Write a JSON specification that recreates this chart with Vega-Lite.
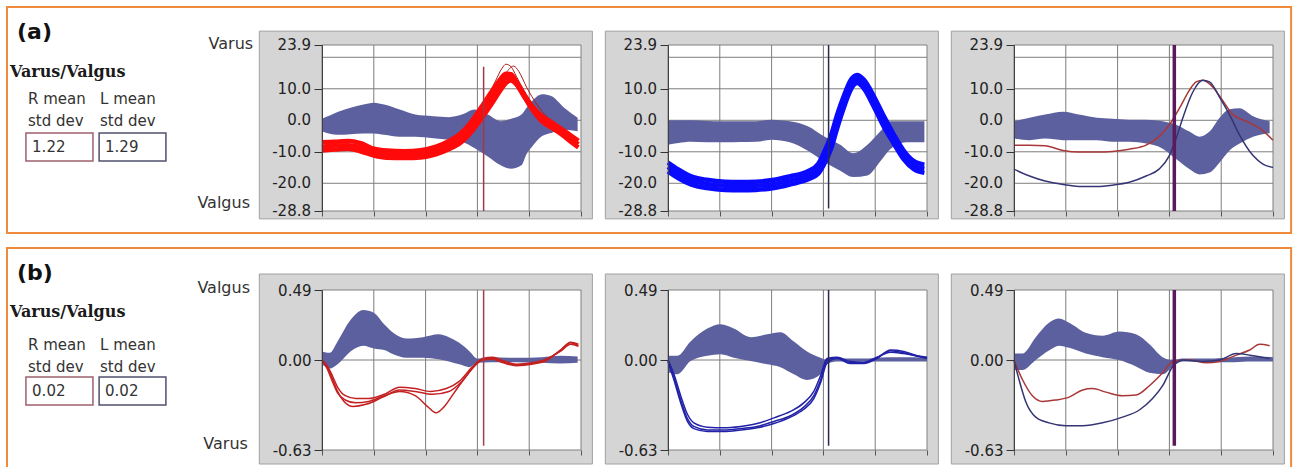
{
  "$schema": "https://vega.github.io/schema/vega-lite/v6.json",
  "background": "white",
  "padding": {"left": 6, "top": 5, "right": 0, "bottom": 0},
  "columns": 4,
  "spacing": {"row": 79, "column": 87},
  "bounds": "flush",
  "align": "each",
  "datasets": {
    "grid_x": [{"at": 20}, {"at": 40}, {"at": 60}, {"at": 80}],
    "grid_ya": [{"at": 20}, {"at": 10}, {"at": 0}, {"at": -10}, {"at": -20}],
    "grid_yb": [{"at": 0}],
    "ticks_a": [
      {"v": 23.9, "label": "23.9"}, {"v": 10, "label": "10.0"}, {"v": 0, "label": "0.0"},
      {"v": -10, "label": "-10.0"}, {"v": -20, "label": "-20.0"}, {"v": -28.8, "label": "-28.8"}
    ],
    "band_a1": [
      {"x": 0, "lo": -3.5, "hi": 0.5}, {"x": 3, "lo": -4.3, "hi": 1.5}, {"x": 6, "lo": -4.6, "hi": 2.6},
      {"x": 11, "lo": -4.4, "hi": 4.0}, {"x": 16, "lo": -4.2, "hi": 5.0}, {"x": 20, "lo": -4.2, "hi": 5.6},
      {"x": 24, "lo": -4.6, "hi": 5.0}, {"x": 30, "lo": -5.2, "hi": 3.4}, {"x": 36, "lo": -5.2, "hi": 1.8},
      {"x": 43, "lo": -5.7, "hi": 1.3}, {"x": 49, "lo": -6.2, "hi": 1.0}, {"x": 54, "lo": -6.8, "hi": 1.8},
      {"x": 59, "lo": -8.9, "hi": 3.4}, {"x": 64, "lo": -11.5, "hi": 1.8}, {"x": 69, "lo": -14.3, "hi": -0.3},
      {"x": 73, "lo": -15.4, "hi": 0.5}, {"x": 77, "lo": -14.3, "hi": 1.8}, {"x": 79, "lo": -10.7, "hi": 4.0},
      {"x": 81, "lo": -8.5, "hi": 6.0}, {"x": 85, "lo": -5.0, "hi": 8.3}, {"x": 88.5, "lo": -4.0, "hi": 7.7},
      {"x": 93.5, "lo": -3.0, "hi": 4.0}, {"x": 98.7, "lo": -3.5, "hi": 0.8}
    ],
    "trace_a1": [
      {"t": "r1", "x": 0, "y": -7.0}, {"t": "r1", "x": 5, "y": -6.8}, {"t": "r1", "x": 10, "y": -6.6}, {"t": "r1", "x": 15, "y": -7.3},
      {"t": "r1", "x": 20, "y": -9.0}, {"t": "r1", "x": 25, "y": -9.6}, {"t": "r1", "x": 32, "y": -9.8}, {"t": "r1", "x": 38, "y": -9.5},
      {"t": "r1", "x": 44, "y": -8.4}, {"t": "r1", "x": 49, "y": -6.6}, {"t": "r1", "x": 54, "y": -3.8}, {"t": "r1", "x": 58, "y": 0.0},
      {"t": "r1", "x": 62, "y": 4.8}, {"t": "r1", "x": 66, "y": 9.8}, {"t": "r1", "x": 69, "y": 13.2}, {"t": "r1", "x": 71, "y": 14.8},
      {"t": "r1", "x": 73, "y": 14.6}, {"t": "r1", "x": 75, "y": 12.4}, {"t": "r1", "x": 78, "y": 8.2}, {"t": "r1", "x": 81, "y": 4.6},
      {"t": "r1", "x": 85, "y": 1.3}, {"t": "r1", "x": 89, "y": -0.8}, {"t": "r1", "x": 93, "y": -3.0}, {"t": "r1", "x": 96, "y": -4.8},
      {"t": "r1", "x": 99, "y": -6.5},
      {"t": "r2", "x": 0, "y": -8.4}, {"t": "r2", "x": 5, "y": -8.0}, {"t": "r2", "x": 10, "y": -7.9}, {"t": "r2", "x": 15, "y": -8.6},
      {"t": "r2", "x": 20, "y": -10.1}, {"t": "r2", "x": 25, "y": -10.8}, {"t": "r2", "x": 32, "y": -11.0}, {"t": "r2", "x": 38, "y": -10.7},
      {"t": "r2", "x": 44, "y": -9.6}, {"t": "r2", "x": 49, "y": -7.9}, {"t": "r2", "x": 54, "y": -5.3}, {"t": "r2", "x": 58, "y": -1.6},
      {"t": "r2", "x": 62, "y": 3.0}, {"t": "r2", "x": 66, "y": 8.0}, {"t": "r2", "x": 69, "y": 11.6}, {"t": "r2", "x": 71, "y": 13.4},
      {"t": "r2", "x": 73, "y": 13.6}, {"t": "r2", "x": 75, "y": 11.8}, {"t": "r2", "x": 78, "y": 7.6}, {"t": "r2", "x": 81, "y": 3.9},
      {"t": "r2", "x": 85, "y": 0.4}, {"t": "r2", "x": 89, "y": -1.7}, {"t": "r2", "x": 93, "y": -3.9}, {"t": "r2", "x": 96, "y": -5.8},
      {"t": "r2", "x": 99, "y": -7.6},
      {"t": "r3", "x": 0, "y": -9.6}, {"t": "r3", "x": 5, "y": -9.3}, {"t": "r3", "x": 10, "y": -9.0}, {"t": "r3", "x": 15, "y": -9.9},
      {"t": "r3", "x": 20, "y": -11.2}, {"t": "r3", "x": 25, "y": -11.9}, {"t": "r3", "x": 32, "y": -12.0}, {"t": "r3", "x": 38, "y": -11.8},
      {"t": "r3", "x": 44, "y": -10.8}, {"t": "r3", "x": 49, "y": -9.2}, {"t": "r3", "x": 54, "y": -6.8}, {"t": "r3", "x": 58, "y": -3.4},
      {"t": "r3", "x": 62, "y": 1.0}, {"t": "r3", "x": 66, "y": 5.8}, {"t": "r3", "x": 69, "y": 9.6}, {"t": "r3", "x": 71, "y": 11.8},
      {"t": "r3", "x": 73, "y": 12.6}, {"t": "r3", "x": 75, "y": 11.4}, {"t": "r3", "x": 78, "y": 7.6}, {"t": "r3", "x": 81, "y": 3.6},
      {"t": "r3", "x": 85, "y": -0.4}, {"t": "r3", "x": 89, "y": -2.6}, {"t": "r3", "x": 93, "y": -4.8}, {"t": "r3", "x": 96, "y": -6.8},
      {"t": "r3", "x": 99, "y": -8.6}
    ],
    "thin_a1": [
      {"t": "t4", "x": 55, "y": -4.0}, {"t": "t4", "x": 60, "y": 1.5}, {"t": "t4", "x": 64, "y": 7.5}, {"t": "t4", "x": 67, "y": 12.5},
      {"t": "t4", "x": 69.5, "y": 16.5}, {"t": "t4", "x": 71, "y": 17.8}, {"t": "t4", "x": 73, "y": 17.0}, {"t": "t4", "x": 75, "y": 14.0},
      {"t": "t4", "x": 78, "y": 9.5}, {"t": "t4", "x": 82, "y": 4.5}, {"t": "t4", "x": 86, "y": 1.0}, {"t": "t4", "x": 90, "y": -1.0},
      {"t": "t5", "x": 60, "y": 0.5}, {"t": "t5", "x": 64, "y": 5.5}, {"t": "t5", "x": 68, "y": 11.0}, {"t": "t5", "x": 71, "y": 15.0},
      {"t": "t5", "x": 74, "y": 17.2}, {"t": "t5", "x": 76, "y": 15.5}, {"t": "t5", "x": 79, "y": 10.5}, {"t": "t5", "x": 83, "y": 5.0},
      {"t": "t5", "x": 87, "y": 1.0}, {"t": "t5", "x": 91, "y": -1.5}
    ],
    "band_a2": [
      {"x": 0, "lo": -7.8, "hi": 0}, {"x": 4, "lo": -7.2, "hi": 0}, {"x": 9, "lo": -6.8, "hi": 0},
      {"x": 15, "lo": -7.0, "hi": -0.2}, {"x": 22, "lo": -7.0, "hi": -0.3}, {"x": 28, "lo": -6.9, "hi": -0.3},
      {"x": 34, "lo": -6.8, "hi": -0.3}, {"x": 40, "lo": -6.2, "hi": 0.2}, {"x": 47, "lo": -7.0, "hi": -0.3},
      {"x": 54, "lo": -9.7, "hi": -1.9}, {"x": 60, "lo": -13.0, "hi": -5.0}, {"x": 66.5, "lo": -16.0, "hi": -7.8},
      {"x": 71.5, "lo": -18.0, "hi": -10.5}, {"x": 77, "lo": -17.5, "hi": -7.8}, {"x": 82, "lo": -13.0, "hi": -3.5},
      {"x": 86, "lo": -9.0, "hi": -0.3}, {"x": 92, "lo": -7.0, "hi": -0.3}, {"x": 99, "lo": -7.0, "hi": -0.3}
    ],
    "trace_a2": [
      {"t": "b1", "x": 0, "y": -13.4}, {"t": "b1", "x": 4, "y": -15.6}, {"t": "b1", "x": 9, "y": -17.8}, {"t": "b1", "x": 15, "y": -18.9},
      {"t": "b1", "x": 22, "y": -19.5}, {"t": "b1", "x": 28, "y": -19.6}, {"t": "b1", "x": 34, "y": -19.5}, {"t": "b1", "x": 41, "y": -18.9},
      {"t": "b1", "x": 47, "y": -17.8}, {"t": "b1", "x": 54, "y": -16.2}, {"t": "b1", "x": 58, "y": -13.8}, {"t": "b1", "x": 60, "y": -10.6},
      {"t": "b1", "x": 63, "y": -4.6}, {"t": "b1", "x": 65.3, "y": 1.8}, {"t": "b1", "x": 68, "y": 8.0}, {"t": "b1", "x": 70.4, "y": 12.6},
      {"t": "b1", "x": 73, "y": 14.4}, {"t": "b1", "x": 75.6, "y": 12.9}, {"t": "b1", "x": 79.4, "y": 7.8}, {"t": "b1", "x": 83.3, "y": 1.4},
      {"t": "b1", "x": 87, "y": -4.2}, {"t": "b1", "x": 91, "y": -9.6}, {"t": "b1", "x": 95, "y": -13.0}, {"t": "b1", "x": 99, "y": -14.1},
      {"t": "b2", "x": 0, "y": -14.8}, {"t": "b2", "x": 4, "y": -17.0}, {"t": "b2", "x": 9, "y": -19.1}, {"t": "b2", "x": 15, "y": -20.2},
      {"t": "b2", "x": 22, "y": -20.8}, {"t": "b2", "x": 28, "y": -20.9}, {"t": "b2", "x": 34, "y": -20.8}, {"t": "b2", "x": 41, "y": -20.2},
      {"t": "b2", "x": 47, "y": -19.1}, {"t": "b2", "x": 54, "y": -17.5}, {"t": "b2", "x": 58, "y": -15.4}, {"t": "b2", "x": 60, "y": -12.5},
      {"t": "b2", "x": 63, "y": -6.8}, {"t": "b2", "x": 65.3, "y": -0.3}, {"t": "b2", "x": 68, "y": 6.1}, {"t": "b2", "x": 70.4, "y": 11.0},
      {"t": "b2", "x": 73, "y": 13.1}, {"t": "b2", "x": 75.6, "y": 11.5}, {"t": "b2", "x": 79.4, "y": 6.1}, {"t": "b2", "x": 83.3, "y": -0.3},
      {"t": "b2", "x": 87, "y": -5.7}, {"t": "b2", "x": 91, "y": -11.0}, {"t": "b2", "x": 95, "y": -14.3}, {"t": "b2", "x": 99, "y": -15.4},
      {"t": "b3", "x": 0, "y": -16.2}, {"t": "b3", "x": 4, "y": -18.4}, {"t": "b3", "x": 9, "y": -20.4}, {"t": "b3", "x": 15, "y": -21.5},
      {"t": "b3", "x": 22, "y": -22.1}, {"t": "b3", "x": 28, "y": -22.2}, {"t": "b3", "x": 34, "y": -22.1}, {"t": "b3", "x": 41, "y": -21.5},
      {"t": "b3", "x": 47, "y": -20.4}, {"t": "b3", "x": 54, "y": -18.8}, {"t": "b3", "x": 58, "y": -17.0}, {"t": "b3", "x": 60, "y": -14.4},
      {"t": "b3", "x": 63, "y": -9.0}, {"t": "b3", "x": 65.3, "y": -2.6}, {"t": "b3", "x": 68, "y": 4.2}, {"t": "b3", "x": 70.4, "y": 9.4},
      {"t": "b3", "x": 73, "y": 11.8}, {"t": "b3", "x": 75.6, "y": 10.1}, {"t": "b3", "x": 79.4, "y": 4.4}, {"t": "b3", "x": 83.3, "y": -2.0},
      {"t": "b3", "x": 87, "y": -7.2}, {"t": "b3", "x": 91, "y": -12.4}, {"t": "b3", "x": 95, "y": -15.6}, {"t": "b3", "x": 99, "y": -16.7}
    ],
    "band_a3": [
      {"x": 0, "lo": -5.8, "hi": -0.3}, {"x": 6, "lo": -6.3, "hi": 0.8}, {"x": 12, "lo": -5.8, "hi": 1.8},
      {"x": 19, "lo": -6.3, "hi": 2.7}, {"x": 25, "lo": -6.3, "hi": 1.8}, {"x": 32, "lo": -6.3, "hi": 0.8},
      {"x": 38, "lo": -6.8, "hi": 0.5}, {"x": 44.5, "lo": -6.8, "hi": 0.2}, {"x": 51, "lo": -7.4, "hi": 0.2},
      {"x": 57.4, "lo": -9.0, "hi": -0.3}, {"x": 62.6, "lo": -12.3, "hi": -1.4}, {"x": 67.7, "lo": -15.5, "hi": -3.6},
      {"x": 71.6, "lo": -17.2, "hi": -5.2}, {"x": 75.5, "lo": -16.6, "hi": -3.6}, {"x": 79.4, "lo": -13.4, "hi": 0.8},
      {"x": 83.2, "lo": -9.6, "hi": 3.5}, {"x": 87.1, "lo": -7.4, "hi": 3.8}, {"x": 92.3, "lo": -5.2, "hi": 1.3},
      {"x": 98.7, "lo": -4.1, "hi": -0.3}
    ],
    "trace_a3": [
      {"t": "R", "x": 0, "y": -7.9}, {"t": "R", "x": 6, "y": -7.9}, {"t": "R", "x": 12, "y": -8.1}, {"t": "R", "x": 19, "y": -9.6},
      {"t": "R", "x": 25, "y": -10.1}, {"t": "R", "x": 32, "y": -10.1}, {"t": "R", "x": 38, "y": -9.9}, {"t": "R", "x": 44.5, "y": -9.2},
      {"t": "R", "x": 51, "y": -7.9}, {"t": "R", "x": 56, "y": -5.2}, {"t": "R", "x": 60, "y": -1.4}, {"t": "R", "x": 64, "y": 4.0},
      {"t": "R", "x": 67.7, "y": 9.5}, {"t": "R", "x": 70.3, "y": 12.2}, {"t": "R", "x": 72.9, "y": 12.7}, {"t": "R", "x": 76.8, "y": 10.5},
      {"t": "R", "x": 80.6, "y": 6.2}, {"t": "R", "x": 84.5, "y": 1.8}, {"t": "R", "x": 89.7, "y": -0.3}, {"t": "R", "x": 94.8, "y": -2.5},
      {"t": "R", "x": 100, "y": -6.3},
      {"t": "L", "x": 0, "y": -15.5}, {"t": "L", "x": 6, "y": -17.7}, {"t": "L", "x": 12, "y": -19.3}, {"t": "L", "x": 19, "y": -20.4},
      {"t": "L", "x": 25, "y": -21.0}, {"t": "L", "x": 32, "y": -21.0}, {"t": "L", "x": 38, "y": -20.6}, {"t": "L", "x": 44.5, "y": -19.7},
      {"t": "L", "x": 51, "y": -17.7}, {"t": "L", "x": 56, "y": -15.5}, {"t": "L", "x": 60, "y": -11.2}, {"t": "L", "x": 62.6, "y": -5.8},
      {"t": "L", "x": 65.2, "y": 0.8}, {"t": "L", "x": 69, "y": 8.9}, {"t": "L", "x": 72.9, "y": 12.7}, {"t": "L", "x": 75.5, "y": 12.2},
      {"t": "L", "x": 79.4, "y": 7.3}, {"t": "L", "x": 83.2, "y": 1.8}, {"t": "L", "x": 87.1, "y": -4.7}, {"t": "L", "x": 92.3, "y": -11.2},
      {"t": "L", "x": 96.1, "y": -13.9}, {"t": "L", "x": 100, "y": -15.0}
    ],
    "band_b1": [
      {"x": 0, "lo": -0.03, "hi": 0.06}, {"x": 3, "lo": -0.06, "hi": 0.05}, {"x": 6, "lo": -0.03, "hi": 0.13},
      {"x": 11, "lo": 0.06, "hi": 0.28}, {"x": 16, "lo": 0.1, "hi": 0.35}, {"x": 20, "lo": 0.08, "hi": 0.33},
      {"x": 24, "lo": 0.07, "hi": 0.25}, {"x": 27.5, "lo": 0.04, "hi": 0.19}, {"x": 32.5, "lo": 0.016, "hi": 0.15},
      {"x": 39, "lo": 0.016, "hi": 0.16}, {"x": 45, "lo": 0.005, "hi": 0.18}, {"x": 49, "lo": -0.01, "hi": 0.16},
      {"x": 53, "lo": -0.03, "hi": 0.12}, {"x": 57, "lo": -0.05, "hi": 0.06}, {"x": 60, "lo": -0.02, "hi": 0.01},
      {"x": 65, "lo": -0.015, "hi": 0.02}, {"x": 75, "lo": -0.015, "hi": 0.015}, {"x": 85, "lo": -0.02, "hi": 0.02},
      {"x": 92, "lo": -0.025, "hi": 0.03}, {"x": 98.7, "lo": -0.02, "hi": 0.025}
    ],
    "trace_b1": [
      {"t": "r1", "x": 0, "y": 0.0}, {"t": "r1", "x": 2, "y": -0.05}, {"t": "r1", "x": 4, "y": -0.13}, {"t": "r1", "x": 6, "y": -0.22},
      {"t": "r1", "x": 8.5, "y": -0.29}, {"t": "r1", "x": 12, "y": -0.325}, {"t": "r1", "x": 17, "y": -0.31}, {"t": "r1", "x": 23.5, "y": -0.26},
      {"t": "r1", "x": 30, "y": -0.21}, {"t": "r1", "x": 36, "y": -0.22}, {"t": "r1", "x": 42.7, "y": -0.24}, {"t": "r1", "x": 49, "y": -0.22},
      {"t": "r1", "x": 54, "y": -0.15}, {"t": "r1", "x": 59, "y": -0.04}, {"t": "r1", "x": 62, "y": 0.0}, {"t": "r1", "x": 66, "y": 0.005},
      {"t": "r1", "x": 70, "y": -0.02}, {"t": "r1", "x": 75, "y": -0.04}, {"t": "r1", "x": 81, "y": -0.03}, {"t": "r1", "x": 87, "y": 0.0},
      {"t": "r1", "x": 92, "y": 0.07}, {"t": "r1", "x": 96, "y": 0.12}, {"t": "r1", "x": 99, "y": 0.1},
      {"t": "r2", "x": 0, "y": 0.0}, {"t": "r2", "x": 2, "y": -0.04}, {"t": "r2", "x": 4, "y": -0.11}, {"t": "r2", "x": 6, "y": -0.19},
      {"t": "r2", "x": 9, "y": -0.25}, {"t": "r2", "x": 13, "y": -0.27}, {"t": "r2", "x": 18, "y": -0.27}, {"t": "r2", "x": 24, "y": -0.24},
      {"t": "r2", "x": 30, "y": -0.19}, {"t": "r2", "x": 36, "y": -0.2}, {"t": "r2", "x": 42, "y": -0.22}, {"t": "r2", "x": 48, "y": -0.2},
      {"t": "r2", "x": 53, "y": -0.15}, {"t": "r2", "x": 58, "y": -0.05}, {"t": "r2", "x": 62, "y": 0.01}, {"t": "r2", "x": 66, "y": 0.02},
      {"t": "r2", "x": 70, "y": -0.005}, {"t": "r2", "x": 75, "y": -0.03}, {"t": "r2", "x": 81, "y": -0.02}, {"t": "r2", "x": 87, "y": 0.01},
      {"t": "r2", "x": 92, "y": 0.06}, {"t": "r2", "x": 96, "y": 0.11}, {"t": "r2", "x": 99, "y": 0.095},
      {"t": "r3", "x": 0, "y": 0.0}, {"t": "r3", "x": 2, "y": -0.06}, {"t": "r3", "x": 4, "y": -0.15}, {"t": "r3", "x": 6, "y": -0.23},
      {"t": "r3", "x": 9, "y": -0.28}, {"t": "r3", "x": 13, "y": -0.3}, {"t": "r3", "x": 18, "y": -0.29}, {"t": "r3", "x": 24, "y": -0.25},
      {"t": "r3", "x": 30, "y": -0.22}, {"t": "r3", "x": 36, "y": -0.25}, {"t": "r3", "x": 41, "y": -0.33}, {"t": "r3", "x": 44, "y": -0.37},
      {"t": "r3", "x": 47, "y": -0.33}, {"t": "r3", "x": 51, "y": -0.23}, {"t": "r3", "x": 55, "y": -0.13}, {"t": "r3", "x": 59, "y": -0.04},
      {"t": "r3", "x": 62, "y": 0.005}, {"t": "r3", "x": 66, "y": 0.01}, {"t": "r3", "x": 70, "y": -0.015}, {"t": "r3", "x": 75, "y": -0.035},
      {"t": "r3", "x": 81, "y": -0.025}, {"t": "r3", "x": 87, "y": 0.005}, {"t": "r3", "x": 92, "y": 0.065}, {"t": "r3", "x": 96, "y": 0.125},
      {"t": "r3", "x": 99, "y": 0.11}
    ],
    "band_b2": [
      {"x": 0, "lo": -0.085, "hi": 0.03}, {"x": 3.6, "lo": -0.1, "hi": 0.03}, {"x": 8.7, "lo": -0.007, "hi": 0.13},
      {"x": 15.2, "lo": 0.03, "hi": 0.22}, {"x": 20.3, "lo": 0.04, "hi": 0.25}, {"x": 25.4, "lo": 0.016, "hi": 0.22},
      {"x": 31.9, "lo": -0.007, "hi": 0.16}, {"x": 38.3, "lo": -0.03, "hi": 0.18}, {"x": 43.4, "lo": -0.05, "hi": 0.195},
      {"x": 48.6, "lo": -0.1, "hi": 0.13}, {"x": 53.7, "lo": -0.14, "hi": 0.06}, {"x": 58.9, "lo": -0.1, "hi": 0.015},
      {"x": 61.4, "lo": -0.03, "hi": 0.0}, {"x": 65, "lo": -0.01, "hi": 0.01}, {"x": 75, "lo": -0.01, "hi": 0.01},
      {"x": 85, "lo": -0.01, "hi": 0.02}, {"x": 95, "lo": -0.01, "hi": 0.02}, {"x": 100, "lo": -0.01, "hi": 0.015}
    ],
    "trace_b2": [
      {"t": "b1", "x": 0, "y": 0.0}, {"t": "b1", "x": 2.3, "y": -0.12}, {"t": "b1", "x": 4.9, "y": -0.28}, {"t": "b1", "x": 7.5, "y": -0.41},
      {"t": "b1", "x": 10, "y": -0.465}, {"t": "b1", "x": 15.2, "y": -0.49}, {"t": "b1", "x": 21.6, "y": -0.49}, {"t": "b1", "x": 28, "y": -0.48},
      {"t": "b1", "x": 34.4, "y": -0.465}, {"t": "b1", "x": 40.9, "y": -0.43}, {"t": "b1", "x": 47.3, "y": -0.39}, {"t": "b1", "x": 52.4, "y": -0.33},
      {"t": "b1", "x": 56.3, "y": -0.25}, {"t": "b1", "x": 58.9, "y": -0.14}, {"t": "b1", "x": 61.4, "y": 0.0}, {"t": "b1", "x": 65.3, "y": 0.016},
      {"t": "b1", "x": 70.4, "y": -0.02}, {"t": "b1", "x": 75.6, "y": -0.02}, {"t": "b1", "x": 80.7, "y": 0.016}, {"t": "b1", "x": 85.9, "y": 0.065},
      {"t": "b1", "x": 91, "y": 0.05}, {"t": "b1", "x": 96.1, "y": 0.027}, {"t": "b1", "x": 100, "y": 0.015},
      {"t": "b2", "x": 0, "y": 0.0}, {"t": "b2", "x": 2.3, "y": -0.1}, {"t": "b2", "x": 4.9, "y": -0.25}, {"t": "b2", "x": 7.5, "y": -0.38},
      {"t": "b2", "x": 10, "y": -0.44}, {"t": "b2", "x": 15.2, "y": -0.47}, {"t": "b2", "x": 21.6, "y": -0.475}, {"t": "b2", "x": 28, "y": -0.465},
      {"t": "b2", "x": 34.4, "y": -0.445}, {"t": "b2", "x": 40.9, "y": -0.405}, {"t": "b2", "x": 47.3, "y": -0.36}, {"t": "b2", "x": 52.4, "y": -0.3},
      {"t": "b2", "x": 56.3, "y": -0.22}, {"t": "b2", "x": 58.9, "y": -0.11}, {"t": "b2", "x": 61.4, "y": 0.01}, {"t": "b2", "x": 65.3, "y": 0.02},
      {"t": "b2", "x": 70.4, "y": -0.01}, {"t": "b2", "x": 75.6, "y": -0.015}, {"t": "b2", "x": 80.7, "y": 0.02}, {"t": "b2", "x": 85.9, "y": 0.055},
      {"t": "b2", "x": 91, "y": 0.045}, {"t": "b2", "x": 96.1, "y": 0.03}, {"t": "b2", "x": 100, "y": 0.02},
      {"t": "b3", "x": 0, "y": -0.01}, {"t": "b3", "x": 2.3, "y": -0.14}, {"t": "b3", "x": 4.9, "y": -0.3}, {"t": "b3", "x": 7.5, "y": -0.43},
      {"t": "b3", "x": 10, "y": -0.48}, {"t": "b3", "x": 15.2, "y": -0.5}, {"t": "b3", "x": 21.6, "y": -0.5}, {"t": "b3", "x": 28, "y": -0.49},
      {"t": "b3", "x": 34.4, "y": -0.475}, {"t": "b3", "x": 40.9, "y": -0.445}, {"t": "b3", "x": 47.3, "y": -0.4}, {"t": "b3", "x": 52.4, "y": -0.345},
      {"t": "b3", "x": 56.3, "y": -0.27}, {"t": "b3", "x": 58.9, "y": -0.16}, {"t": "b3", "x": 61.4, "y": -0.02}, {"t": "b3", "x": 65.3, "y": 0.01},
      {"t": "b3", "x": 70.4, "y": -0.025}, {"t": "b3", "x": 75.6, "y": -0.025}, {"t": "b3", "x": 80.7, "y": 0.01}, {"t": "b3", "x": 85.9, "y": 0.07},
      {"t": "b3", "x": 91, "y": 0.06}, {"t": "b3", "x": 96.1, "y": 0.03}, {"t": "b3", "x": 100, "y": 0.01}
    ],
    "band_b3": [
      {"x": 0, "lo": -0.07, "hi": 0.045}, {"x": 3.2, "lo": -0.07, "hi": 0.045}, {"x": 8.4, "lo": 0.0, "hi": 0.16},
      {"x": 13.5, "lo": 0.067, "hi": 0.26}, {"x": 17.4, "lo": 0.1, "hi": 0.29}, {"x": 21.3, "lo": 0.085, "hi": 0.26},
      {"x": 27.7, "lo": 0.045, "hi": 0.19}, {"x": 34.2, "lo": 0.02, "hi": 0.17}, {"x": 40.6, "lo": 0.0, "hi": 0.2},
      {"x": 47.1, "lo": -0.045, "hi": 0.18}, {"x": 52.3, "lo": -0.09, "hi": 0.11}, {"x": 57.4, "lo": -0.1, "hi": 0.02},
      {"x": 61.3, "lo": -0.045, "hi": 0.0}, {"x": 65, "lo": -0.01, "hi": 0.01}, {"x": 75, "lo": -0.015, "hi": 0.01},
      {"x": 85, "lo": -0.015, "hi": 0.02}, {"x": 92, "lo": -0.01, "hi": 0.025}, {"x": 100, "lo": -0.01, "hi": 0.02}
    ],
    "trace_b3": [
      {"t": "R", "x": 0, "y": 0.0}, {"t": "R", "x": 3.2, "y": -0.135}, {"t": "R", "x": 7.1, "y": -0.25}, {"t": "R", "x": 11, "y": -0.29},
      {"t": "R", "x": 16.1, "y": -0.28}, {"t": "R", "x": 21.3, "y": -0.26}, {"t": "R", "x": 26.5, "y": -0.21}, {"t": "R", "x": 30.3, "y": -0.2},
      {"t": "R", "x": 35.5, "y": -0.225}, {"t": "R", "x": 41.9, "y": -0.25}, {"t": "R", "x": 47.1, "y": -0.245}, {"t": "R", "x": 52.3, "y": -0.18},
      {"t": "R", "x": 57.4, "y": -0.09}, {"t": "R", "x": 61.3, "y": -0.01}, {"t": "R", "x": 67.7, "y": 0.0}, {"t": "R", "x": 74.2, "y": -0.02},
      {"t": "R", "x": 79.4, "y": -0.01}, {"t": "R", "x": 85.8, "y": 0.034}, {"t": "R", "x": 91, "y": 0.07}, {"t": "R", "x": 94.8, "y": 0.11},
      {"t": "R", "x": 98.7, "y": 0.1},
      {"t": "L", "x": 0, "y": 0.0}, {"t": "L", "x": 1.9, "y": -0.135}, {"t": "L", "x": 4.5, "y": -0.29}, {"t": "L", "x": 8.4, "y": -0.4},
      {"t": "L", "x": 13.5, "y": -0.44}, {"t": "L", "x": 20, "y": -0.46}, {"t": "L", "x": 26.5, "y": -0.46}, {"t": "L", "x": 34.2, "y": -0.44},
      {"t": "L", "x": 41.9, "y": -0.4}, {"t": "L", "x": 48.4, "y": -0.35}, {"t": "L", "x": 53.5, "y": -0.27}, {"t": "L", "x": 57.4, "y": -0.18},
      {"t": "L", "x": 61.3, "y": -0.045}, {"t": "L", "x": 65.2, "y": 0.0}, {"t": "L", "x": 72.9, "y": -0.01}, {"t": "L", "x": 79.4, "y": 0.0},
      {"t": "L", "x": 85.8, "y": 0.045}, {"t": "L", "x": 91, "y": 0.034}, {"t": "L", "x": 98.7, "y": 0.01}
    ]
  },
  "concat": [
    {
      "width": 228, "height": 166,
      "data": {"values": [{}]},
      "layer": [
        {"mark": {"type": "rect", "filled": false, "stroke": "#ef8a3c", "strokeWidth": 2},
         "encoding": {
           "x": {"datum": 0, "type": "quantitative", "scale": {"domain": [0, 100], "nice": false, "zero": false}, "axis": null},
           "x2": {"datum": 563.2},
           "y": {"datum": -22.9, "type": "quantitative", "scale": {"domain": [0, 100], "nice": false, "zero": false, "reverse": true}, "axis": null},
           "y2": {"datum": 113.3}}},
        {"mark": {"type": "text", "text": "(a)", "font": "DejaVu Sans", "fontWeight": "bold", "fontSize": 22, "align": "left", "baseline": "middle", "color": "#111111"},
         "encoding": {"x": {"datum": 4.4, "type": "quantitative", "scale": {"domain": [0, 100], "nice": false, "zero": false}, "axis": null},
                      "y": {"datum": -7.8, "type": "quantitative", "scale": {"domain": [0, 100], "nice": false, "zero": false, "reverse": true}, "axis": null}}},
        {"mark": {"type": "text", "text": "Varus/Valgus", "font": "DejaVu Serif", "fontWeight": "bold", "fontSize": 16, "align": "left", "baseline": "middle", "color": "#1a1a1a"},
         "encoding": {"x": {"datum": 1.3, "type": "quantitative", "scale": {"domain": [0, 100], "nice": false, "zero": false}, "axis": null},
                      "y": {"datum": 16.3, "type": "quantitative", "scale": {"domain": [0, 100], "nice": false, "zero": false, "reverse": true}, "axis": null}}},
        {"mark": {"type": "text", "text": ["R mean", "std dev"], "lineHeight": 21.5, "fontSize": 15, "align": "left", "baseline": "middle", "color": "#333333"},
         "encoding": {"x": {"datum": 9.2, "type": "quantitative", "scale": {"domain": [0, 100], "nice": false, "zero": false}, "axis": null},
                      "y": {"datum": 32.8, "type": "quantitative", "scale": {"domain": [0, 100], "nice": false, "zero": false, "reverse": true}, "axis": null}}},
        {"mark": {"type": "text", "text": ["L mean", "std dev"], "lineHeight": 21.5, "fontSize": 15, "align": "left", "baseline": "middle", "color": "#333333"},
         "encoding": {"x": {"datum": 40.8, "type": "quantitative", "scale": {"domain": [0, 100], "nice": false, "zero": false}, "axis": null},
                      "y": {"datum": 32.8, "type": "quantitative", "scale": {"domain": [0, 100], "nice": false, "zero": false, "reverse": true}, "axis": null}}},
        {"mark": {"type": "rect", "filled": false, "stroke": "#a0606e", "strokeWidth": 1.5},
         "encoding": {"x": {"datum": 8.3, "type": "quantitative", "scale": {"domain": [0, 100], "nice": false, "zero": false}, "axis": null},
                      "x2": {"datum": 37.7},
                      "y": {"datum": 53.0, "type": "quantitative", "scale": {"domain": [0, 100], "nice": false, "zero": false, "reverse": true}, "axis": null},
                      "y2": {"datum": 69.9}}},
        {"mark": {"type": "rect", "filled": false, "stroke": "#50506e", "strokeWidth": 1.5},
         "encoding": {"x": {"datum": 40.4, "type": "quantitative", "scale": {"domain": [0, 100], "nice": false, "zero": false}, "axis": null},
                      "x2": {"datum": 69.7},
                      "y": {"datum": 53.0, "type": "quantitative", "scale": {"domain": [0, 100], "nice": false, "zero": false, "reverse": true}, "axis": null},
                      "y2": {"datum": 69.9}}},
        {"mark": {"type": "text", "text": "1.22", "fontSize": 15, "align": "left", "baseline": "middle", "color": "#333333"},
         "encoding": {"x": {"datum": 11.0, "type": "quantitative", "scale": {"domain": [0, 100], "nice": false, "zero": false}, "axis": null},
                      "y": {"datum": 61.4, "type": "quantitative", "scale": {"domain": [0, 100], "nice": false, "zero": false, "reverse": true}, "axis": null}}},
        {"mark": {"type": "text", "text": "1.29", "fontSize": 15, "align": "left", "baseline": "middle", "color": "#333333"},
         "encoding": {"x": {"datum": 43.0, "type": "quantitative", "scale": {"domain": [0, 100], "nice": false, "zero": false}, "axis": null},
                      "y": {"datum": 61.4, "type": "quantitative", "scale": {"domain": [0, 100], "nice": false, "zero": false, "reverse": true}, "axis": null}}}
      ]
    },
    {
      "width": 259, "height": 166,
      "data": {"values": [{}]},
      "layer": [
        {"mark": {"type": "rect", "fill": "#d5d5d5", "stroke": "#a0a0a0", "strokeWidth": 1},
         "encoding": {
           "x": {"datum": -24.2, "type": "quantitative", "scale": {"domain": [0, 100], "nice": false, "zero": false}},
           "x2": {"datum": 104.4},
           "y": {"datum": 28.3, "type": "quantitative", "scale": {"domain": [-28.8, 23.9], "nice": false, "zero": false}},
           "y2": {"datum": -31.3}}},
        {"mark": {"type": "rect", "fill": "#ffffff", "stroke": "#808080", "strokeWidth": 1},
         "encoding": {"x": {"datum": 0, "type": "quantitative", "scale": {"domain": [0, 100], "nice": false, "zero": false}},
                      "x2": {"datum": 100},
                      "y": {"datum": 23.9, "type": "quantitative", "scale": {"domain": [-28.8, 23.9], "nice": false, "zero": false}},
                      "y2": {"datum": -28.8}}},
        {"data": {"name": "grid_x"}, "mark": {"type": "rule", "color": "#7d7d7d", "strokeWidth": 1},
         "encoding": {"x": {"field": "at", "type": "quantitative", "scale": {"domain": [0, 100], "nice": false, "zero": false},
                            "axis": {"values": [0, 20, 40, 60, 80, 100], "labels": false, "domain": false, "tickSize": 5, "tickColor": "#555555", "grid": false, "title": null, "zindex": 1}}}},
        {"data": {"name": "grid_ya"}, "mark": {"type": "rule", "color": "#7d7d7d", "strokeWidth": 1},
         "encoding": {"y": {"field": "at", "type": "quantitative", "scale": {"domain": [-28.8, 23.9], "nice": false, "zero": false},
                            "axis": {"values": [23.9, 20, 10, 0, -10, -20, -28.8], "labels": false, "tickSize": 8, "grid": false, "title": null, "zindex": 1}}}},
        {"data": {"name": "band_a1"}, "mark": {"type": "area", "color": "#5d609f", "interpolate": "monotone"},
         "encoding": {"x": {"field": "x", "type": "quantitative", "scale": {"domain": [0, 100], "nice": false, "zero": false}},
                      "y": {"field": "hi", "type": "quantitative", "scale": {"domain": [-28.8, 23.9], "nice": false, "zero": false}},
                      "y2": {"field": "lo"}}},
        {"data": {"name": "thin_a1"}, "mark": {"type": "line", "color": "#b31b1b", "strokeWidth": 1, "interpolate": "monotone"},
         "encoding": {"x": {"field": "x", "type": "quantitative", "scale": {"domain": [0, 100], "nice": false, "zero": false}},
                      "y": {"field": "y", "type": "quantitative", "scale": {"domain": [-28.8, 23.9], "nice": false, "zero": false}},
                      "detail": {"field": "t"}}},
        {"data": {"name": "trace_a1"}, "mark": {"type": "line", "color": "#ff0a0a", "strokeWidth": 4.5, "interpolate": "monotone"},
         "encoding": {"x": {"field": "x", "type": "quantitative", "scale": {"domain": [0, 100], "nice": false, "zero": false}},
                      "y": {"field": "y", "type": "quantitative", "scale": {"domain": [-28.8, 23.9], "nice": false, "zero": false}},
                      "detail": {"field": "t"}}},
        {"mark": {"type": "rule", "color": "#9b3a4a", "strokeWidth": 1.5},
         "encoding": {"x": {"datum": 62.4, "type": "quantitative", "scale": {"domain": [0, 100], "nice": false, "zero": false}},
                      "y": {"datum": 17, "type": "quantitative", "scale": {"domain": [-28.8, 23.9], "nice": false, "zero": false}},
                      "y2": {"datum": -28.8}}},
        {"data": {"name": "ticks_a"}, "mark": {"type": "text", "fontSize": 15, "align": "right", "baseline": "middle", "color": "#222222"},
         "encoding": {"x": {"datum": -4.25, "type": "quantitative", "scale": {"domain": [0, 100], "nice": false, "zero": false}},
                      "y": {"field": "v", "type": "quantitative", "scale": {"domain": [-28.8, 23.9], "nice": false, "zero": false}},
                      "text": {"field": "label"}}},
        {"mark": {"type": "text", "text": "Varus", "fontSize": 16, "align": "right", "baseline": "middle", "color": "#333333"},
         "encoding": {"x": {"datum": -26.6, "type": "quantitative", "scale": {"domain": [0, 100], "nice": false, "zero": false}},
                      "y": {"datum": 24.2, "type": "quantitative", "scale": {"domain": [-28.8, 23.9], "nice": false, "zero": false}}}},
        {"mark": {"type": "text", "text": "Valgus", "fontSize": 16, "align": "right", "baseline": "middle", "color": "#333333"},
         "encoding": {"x": {"datum": -27.8, "type": "quantitative", "scale": {"domain": [0, 100], "nice": false, "zero": false}},
                      "y": {"datum": -26.3, "type": "quantitative", "scale": {"domain": [-28.8, 23.9], "nice": false, "zero": false}}}}
      ]
    },
    {
      "width": 259, "height": 166,
      "data": {"values": [{}]},
      "layer": [
        {"mark": {"type": "rect", "fill": "#d5d5d5", "stroke": "#a0a0a0", "strokeWidth": 1},
         "encoding": {
           "x": {"datum": -24.2, "type": "quantitative", "scale": {"domain": [0, 100], "nice": false, "zero": false}},
           "x2": {"datum": 104.4},
           "y": {"datum": 28.3, "type": "quantitative", "scale": {"domain": [-28.8, 23.9], "nice": false, "zero": false}},
           "y2": {"datum": -31.3}}},
        {"mark": {"type": "rect", "fill": "#ffffff", "stroke": "#808080", "strokeWidth": 1},
         "encoding": {"x": {"datum": 0, "type": "quantitative", "scale": {"domain": [0, 100], "nice": false, "zero": false}},
                      "x2": {"datum": 100},
                      "y": {"datum": 23.9, "type": "quantitative", "scale": {"domain": [-28.8, 23.9], "nice": false, "zero": false}},
                      "y2": {"datum": -28.8}}},
        {"data": {"name": "grid_x"}, "mark": {"type": "rule", "color": "#7d7d7d", "strokeWidth": 1},
         "encoding": {"x": {"field": "at", "type": "quantitative", "scale": {"domain": [0, 100], "nice": false, "zero": false},
                            "axis": {"values": [0, 20, 40, 60, 80, 100], "labels": false, "domain": false, "tickSize": 5, "tickColor": "#555555", "grid": false, "title": null, "zindex": 1}}}},
        {"data": {"name": "grid_ya"}, "mark": {"type": "rule", "color": "#7d7d7d", "strokeWidth": 1},
         "encoding": {"y": {"field": "at", "type": "quantitative", "scale": {"domain": [-28.8, 23.9], "nice": false, "zero": false},
                            "axis": {"values": [23.9, 20, 10, 0, -10, -20, -28.8], "labels": false, "tickSize": 8, "grid": false, "title": null, "zindex": 1}}}},
        {"data": {"name": "band_a2"}, "mark": {"type": "area", "color": "#5d609f", "interpolate": "monotone"},
         "encoding": {"x": {"field": "x", "type": "quantitative", "scale": {"domain": [0, 100], "nice": false, "zero": false}},
                      "y": {"field": "hi", "type": "quantitative", "scale": {"domain": [-28.8, 23.9], "nice": false, "zero": false}},
                      "y2": {"field": "lo"}}},
        {"data": {"name": "trace_a2"}, "mark": {"type": "line", "color": "#0a0aff", "strokeWidth": 4.5, "interpolate": "monotone"},
         "encoding": {"x": {"field": "x", "type": "quantitative", "scale": {"domain": [0, 100], "nice": false, "zero": false}},
                      "y": {"field": "y", "type": "quantitative", "scale": {"domain": [-28.8, 23.9], "nice": false, "zero": false}},
                      "detail": {"field": "t"}}},
        {"mark": {"type": "rule", "color": "#2a2a4a", "strokeWidth": 1.5},
         "encoding": {"x": {"datum": 62.0, "type": "quantitative", "scale": {"domain": [0, 100], "nice": false, "zero": false}},
                      "y": {"datum": 23.9, "type": "quantitative", "scale": {"domain": [-28.8, 23.9], "nice": false, "zero": false}},
                      "y2": {"datum": -28.0}}},
        {"data": {"name": "ticks_a"}, "mark": {"type": "text", "fontSize": 15, "align": "right", "baseline": "middle", "color": "#222222"},
         "encoding": {"x": {"datum": -4.25, "type": "quantitative", "scale": {"domain": [0, 100], "nice": false, "zero": false}},
                      "y": {"field": "v", "type": "quantitative", "scale": {"domain": [-28.8, 23.9], "nice": false, "zero": false}},
                      "text": {"field": "label"}}}
      ]
    },
    {
      "width": 259, "height": 166,
      "data": {"values": [{}]},
      "layer": [
        {"mark": {"type": "rect", "fill": "#d5d5d5", "stroke": "#a0a0a0", "strokeWidth": 1},
         "encoding": {
           "x": {"datum": -24.2, "type": "quantitative", "scale": {"domain": [0, 100], "nice": false, "zero": false}},
           "x2": {"datum": 104.4},
           "y": {"datum": 28.3, "type": "quantitative", "scale": {"domain": [-28.8, 23.9], "nice": false, "zero": false}},
           "y2": {"datum": -31.3}}},
        {"mark": {"type": "rect", "fill": "#ffffff", "stroke": "#808080", "strokeWidth": 1},
         "encoding": {"x": {"datum": 0, "type": "quantitative", "scale": {"domain": [0, 100], "nice": false, "zero": false}},
                      "x2": {"datum": 100},
                      "y": {"datum": 23.9, "type": "quantitative", "scale": {"domain": [-28.8, 23.9], "nice": false, "zero": false}},
                      "y2": {"datum": -28.8}}},
        {"data": {"name": "grid_x"}, "mark": {"type": "rule", "color": "#7d7d7d", "strokeWidth": 1},
         "encoding": {"x": {"field": "at", "type": "quantitative", "scale": {"domain": [0, 100], "nice": false, "zero": false},
                            "axis": {"values": [0, 20, 40, 60, 80, 100], "labels": false, "domain": false, "tickSize": 5, "tickColor": "#555555", "grid": false, "title": null, "zindex": 1}}}},
        {"data": {"name": "grid_ya"}, "mark": {"type": "rule", "color": "#7d7d7d", "strokeWidth": 1},
         "encoding": {"y": {"field": "at", "type": "quantitative", "scale": {"domain": [-28.8, 23.9], "nice": false, "zero": false},
                            "axis": {"values": [23.9, 20, 10, 0, -10, -20, -28.8], "labels": false, "tickSize": 8, "grid": false, "title": null, "zindex": 1}}}},
        {"data": {"name": "band_a3"}, "mark": {"type": "area", "color": "#5d609f", "interpolate": "monotone"},
         "encoding": {"x": {"field": "x", "type": "quantitative", "scale": {"domain": [0, 100], "nice": false, "zero": false}},
                      "y": {"field": "hi", "type": "quantitative", "scale": {"domain": [-28.8, 23.9], "nice": false, "zero": false}},
                      "y2": {"field": "lo"}}},
        {"data": {"name": "trace_a3"}, "mark": {"type": "line", "strokeWidth": 1.5, "interpolate": "monotone"},
         "encoding": {"x": {"field": "x", "type": "quantitative", "scale": {"domain": [0, 100], "nice": false, "zero": false}},
                      "y": {"field": "y", "type": "quantitative", "scale": {"domain": [-28.8, 23.9], "nice": false, "zero": false}},
                      "color": {"field": "t", "type": "nominal", "scale": {"domain": ["R", "L"], "range": ["#a83838", "#353575"]}, "legend": null}}},
        {"mark": {"type": "rule", "color": "#5b1a5b", "strokeWidth": 3.5},
         "encoding": {"x": {"datum": 61.9, "type": "quantitative", "scale": {"domain": [0, 100], "nice": false, "zero": false}},
                      "y": {"datum": 23.9, "type": "quantitative", "scale": {"domain": [-28.8, 23.9], "nice": false, "zero": false}},
                      "y2": {"datum": -28.8}}},
        {"data": {"name": "ticks_a"}, "mark": {"type": "text", "fontSize": 15, "align": "right", "baseline": "middle", "color": "#222222"},
         "encoding": {"x": {"datum": -4.25, "type": "quantitative", "scale": {"domain": [0, 100], "nice": false, "zero": false}},
                      "y": {"field": "v", "type": "quantitative", "scale": {"domain": [-28.8, 23.9], "nice": false, "zero": false}},
                      "text": {"field": "label"}}}
      ]
    },
    {
      "width": 228, "height": 160,
      "data": {"values": [{}]},
      "layer": [
        {"mark": {"type": "rect", "filled": false, "stroke": "#ef8a3c", "strokeWidth": 2},
         "encoding": {
           "x": {"datum": 0, "type": "quantitative", "scale": {"domain": [0, 100], "nice": false, "zero": false}, "axis": null},
           "x2": {"datum": 563.2},
           "y": {"datum": -26.25, "type": "quantitative", "scale": {"domain": [0, 100], "nice": false, "zero": false, "reverse": true}, "axis": null},
           "y2": {"datum": 119.4}}},
        {"mark": {"type": "text", "text": "(b)", "font": "DejaVu Sans", "fontWeight": "bold", "fontSize": 22, "align": "left", "baseline": "middle", "color": "#111111"},
         "encoding": {"x": {"datum": 4.4, "type": "quantitative", "scale": {"domain": [0, 100], "nice": false, "zero": false}, "axis": null},
                      "y": {"datum": -10.6, "type": "quantitative", "scale": {"domain": [0, 100], "nice": false, "zero": false, "reverse": true}, "axis": null}}},
        {"mark": {"type": "text", "text": "Varus/Valgus", "font": "DejaVu Serif", "fontWeight": "bold", "fontSize": 16, "align": "left", "baseline": "middle", "color": "#1a1a1a"},
         "encoding": {"x": {"datum": 1.3, "type": "quantitative", "scale": {"domain": [0, 100], "nice": false, "zero": false}, "axis": null},
                      "y": {"datum": 13.75, "type": "quantitative", "scale": {"domain": [0, 100], "nice": false, "zero": false, "reverse": true}, "axis": null}}},
        {"mark": {"type": "text", "text": ["R mean", "std dev"], "lineHeight": 21.5, "fontSize": 15, "align": "left", "baseline": "middle", "color": "#333333"},
         "encoding": {"x": {"datum": 9.2, "type": "quantitative", "scale": {"domain": [0, 100], "nice": false, "zero": false}, "axis": null},
                      "y": {"datum": 34.4, "type": "quantitative", "scale": {"domain": [0, 100], "nice": false, "zero": false, "reverse": true}, "axis": null}}},
        {"mark": {"type": "text", "text": ["L mean", "std dev"], "lineHeight": 21.5, "fontSize": 15, "align": "left", "baseline": "middle", "color": "#333333"},
         "encoding": {"x": {"datum": 40.8, "type": "quantitative", "scale": {"domain": [0, 100], "nice": false, "zero": false}, "axis": null},
                      "y": {"datum": 34.4, "type": "quantitative", "scale": {"domain": [0, 100], "nice": false, "zero": false, "reverse": true}, "axis": null}}},
        {"mark": {"type": "rect", "filled": false, "stroke": "#a0606e", "strokeWidth": 1.5},
         "encoding": {"x": {"datum": 8.3, "type": "quantitative", "scale": {"domain": [0, 100], "nice": false, "zero": false}, "axis": null},
                      "x2": {"datum": 37.7},
                      "y": {"datum": 54.4, "type": "quantitative", "scale": {"domain": [0, 100], "nice": false, "zero": false, "reverse": true}, "axis": null},
                      "y2": {"datum": 71.9}}},
        {"mark": {"type": "rect", "filled": false, "stroke": "#50506e", "strokeWidth": 1.5},
         "encoding": {"x": {"datum": 40.4, "type": "quantitative", "scale": {"domain": [0, 100], "nice": false, "zero": false}, "axis": null},
                      "x2": {"datum": 69.7},
                      "y": {"datum": 54.4, "type": "quantitative", "scale": {"domain": [0, 100], "nice": false, "zero": false, "reverse": true}, "axis": null},
                      "y2": {"datum": 71.9}}},
        {"mark": {"type": "text", "text": "0.02", "fontSize": 15, "align": "left", "baseline": "middle", "color": "#333333"},
         "encoding": {"x": {"datum": 11.0, "type": "quantitative", "scale": {"domain": [0, 100], "nice": false, "zero": false}, "axis": null},
                      "y": {"datum": 63.1, "type": "quantitative", "scale": {"domain": [0, 100], "nice": false, "zero": false, "reverse": true}, "axis": null}}},
        {"mark": {"type": "text", "text": "0.02", "fontSize": 15, "align": "left", "baseline": "middle", "color": "#333333"},
         "encoding": {"x": {"datum": 43.0, "type": "quantitative", "scale": {"domain": [0, 100], "nice": false, "zero": false}, "axis": null},
                      "y": {"datum": 63.1, "type": "quantitative", "scale": {"domain": [0, 100], "nice": false, "zero": false, "reverse": true}, "axis": null}}}
      ]
    },
    {
      "width": 259, "height": 160,
      "data": {"values": [{}]},
      "layer": [
        {"mark": {"type": "rect", "fill": "#d5d5d5", "stroke": "#a0a0a0", "strokeWidth": 1},
         "encoding": {
           "x": {"datum": -24.2, "type": "quantitative", "scale": {"domain": [0, 100], "nice": false, "zero": false}},
           "x2": {"datum": 104.4},
           "y": {"datum": 0.602, "type": "quantitative", "scale": {"domain": [-0.63, 0.49], "nice": false, "zero": false}},
           "y2": {"datum": -0.728}}},
        {"mark": {"type": "rect", "fill": "#ffffff", "stroke": "#808080", "strokeWidth": 1},
         "encoding": {"x": {"datum": 0, "type": "quantitative", "scale": {"domain": [0, 100], "nice": false, "zero": false}},
                      "x2": {"datum": 100},
                      "y": {"datum": 0.49, "type": "quantitative", "scale": {"domain": [-0.63, 0.49], "nice": false, "zero": false}},
                      "y2": {"datum": -0.63}}},
        {"data": {"name": "grid_x"}, "mark": {"type": "rule", "color": "#7d7d7d", "strokeWidth": 1},
         "encoding": {"x": {"field": "at", "type": "quantitative", "scale": {"domain": [0, 100], "nice": false, "zero": false},
                            "axis": {"values": [0, 20, 40, 60, 80, 100], "labels": false, "domain": false, "tickSize": 5, "tickColor": "#555555", "grid": false, "title": null, "zindex": 1}}}},
        {"data": {"name": "grid_yb"}, "mark": {"type": "rule", "color": "#7d7d7d", "strokeWidth": 1},
         "encoding": {"y": {"field": "at", "type": "quantitative", "scale": {"domain": [-0.63, 0.49], "nice": false, "zero": false},
                            "axis": {"values": [0.49, 0, -0.63], "labelExpr": "replace(format(datum.value, '.2f'), '\u2212', '-')", "labelOverlap": false, "labelFlush": false, "tickSize": 8, "labelPadding": 3, "grid": false, "title": null, "zindex": 1}}}},
        {"data": {"name": "band_b1"}, "mark": {"type": "area", "color": "#5d609f", "interpolate": "monotone"},
         "encoding": {"x": {"field": "x", "type": "quantitative", "scale": {"domain": [0, 100], "nice": false, "zero": false}},
                      "y": {"field": "hi", "type": "quantitative", "scale": {"domain": [-0.63, 0.49], "nice": false, "zero": false}},
                      "y2": {"field": "lo"}}},
        {"data": {"name": "trace_b1"}, "mark": {"type": "line", "color": "#c42020", "strokeWidth": 1.5, "interpolate": "monotone"},
         "encoding": {"x": {"field": "x", "type": "quantitative", "scale": {"domain": [0, 100], "nice": false, "zero": false}},
                      "y": {"field": "y", "type": "quantitative", "scale": {"domain": [-0.63, 0.49], "nice": false, "zero": false}},
                      "detail": {"field": "t"}}},
        {"mark": {"type": "rule", "color": "#9b4050", "strokeWidth": 1.5},
         "encoding": {"x": {"datum": 62.4, "type": "quantitative", "scale": {"domain": [0, 100], "nice": false, "zero": false}},
                      "y": {"datum": 0.49, "type": "quantitative", "scale": {"domain": [-0.63, 0.49], "nice": false, "zero": false}},
                      "y2": {"datum": -0.6}}},
        {"mark": {"type": "text", "text": "Valgus", "fontSize": 16, "align": "right", "baseline": "middle", "color": "#333333"},
         "encoding": {"x": {"datum": -27.8, "type": "quantitative", "scale": {"domain": [0, 100], "nice": false, "zero": false}},
                      "y": {"datum": 0.504, "type": "quantitative", "scale": {"domain": [-0.63, 0.49], "nice": false, "zero": false}}}},
        {"mark": {"type": "text", "text": "Varus", "fontSize": 16, "align": "right", "baseline": "middle", "color": "#333333"},
         "encoding": {"x": {"datum": -28.6, "type": "quantitative", "scale": {"domain": [0, 100], "nice": false, "zero": false}},
                      "y": {"datum": -0.588, "type": "quantitative", "scale": {"domain": [-0.63, 0.49], "nice": false, "zero": false}}}}
      ]
    },
    {
      "width": 259, "height": 160,
      "data": {"values": [{}]},
      "layer": [
        {"mark": {"type": "rect", "fill": "#d5d5d5", "stroke": "#a0a0a0", "strokeWidth": 1},
         "encoding": {
           "x": {"datum": -24.2, "type": "quantitative", "scale": {"domain": [0, 100], "nice": false, "zero": false}},
           "x2": {"datum": 104.4},
           "y": {"datum": 0.602, "type": "quantitative", "scale": {"domain": [-0.63, 0.49], "nice": false, "zero": false}},
           "y2": {"datum": -0.728}}},
        {"mark": {"type": "rect", "fill": "#ffffff", "stroke": "#808080", "strokeWidth": 1},
         "encoding": {"x": {"datum": 0, "type": "quantitative", "scale": {"domain": [0, 100], "nice": false, "zero": false}},
                      "x2": {"datum": 100},
                      "y": {"datum": 0.49, "type": "quantitative", "scale": {"domain": [-0.63, 0.49], "nice": false, "zero": false}},
                      "y2": {"datum": -0.63}}},
        {"data": {"name": "grid_x"}, "mark": {"type": "rule", "color": "#7d7d7d", "strokeWidth": 1},
         "encoding": {"x": {"field": "at", "type": "quantitative", "scale": {"domain": [0, 100], "nice": false, "zero": false},
                            "axis": {"values": [0, 20, 40, 60, 80, 100], "labels": false, "domain": false, "tickSize": 5, "tickColor": "#555555", "grid": false, "title": null, "zindex": 1}}}},
        {"data": {"name": "grid_yb"}, "mark": {"type": "rule", "color": "#7d7d7d", "strokeWidth": 1},
         "encoding": {"y": {"field": "at", "type": "quantitative", "scale": {"domain": [-0.63, 0.49], "nice": false, "zero": false},
                            "axis": {"values": [0.49, 0, -0.63], "labelExpr": "replace(format(datum.value, '.2f'), '\u2212', '-')", "labelOverlap": false, "labelFlush": false, "tickSize": 8, "labelPadding": 3, "grid": false, "title": null, "zindex": 1}}}},
        {"data": {"name": "band_b2"}, "mark": {"type": "area", "color": "#5d609f", "interpolate": "monotone"},
         "encoding": {"x": {"field": "x", "type": "quantitative", "scale": {"domain": [0, 100], "nice": false, "zero": false}},
                      "y": {"field": "hi", "type": "quantitative", "scale": {"domain": [-0.63, 0.49], "nice": false, "zero": false}},
                      "y2": {"field": "lo"}}},
        {"data": {"name": "trace_b2"}, "mark": {"type": "line", "color": "#2222a8", "strokeWidth": 1.5, "interpolate": "monotone"},
         "encoding": {"x": {"field": "x", "type": "quantitative", "scale": {"domain": [0, 100], "nice": false, "zero": false}},
                      "y": {"field": "y", "type": "quantitative", "scale": {"domain": [-0.63, 0.49], "nice": false, "zero": false}},
                      "detail": {"field": "t"}}},
        {"mark": {"type": "rule", "color": "#262650", "strokeWidth": 1.5},
         "encoding": {"x": {"datum": 62.0, "type": "quantitative", "scale": {"domain": [0, 100], "nice": false, "zero": false}},
                      "y": {"datum": 0.49, "type": "quantitative", "scale": {"domain": [-0.63, 0.49], "nice": false, "zero": false}},
                      "y2": {"datum": -0.6}}}
      ]
    },
    {
      "width": 259, "height": 160,
      "data": {"values": [{}]},
      "layer": [
        {"mark": {"type": "rect", "fill": "#d5d5d5", "stroke": "#a0a0a0", "strokeWidth": 1},
         "encoding": {
           "x": {"datum": -24.2, "type": "quantitative", "scale": {"domain": [0, 100], "nice": false, "zero": false}},
           "x2": {"datum": 104.4},
           "y": {"datum": 0.602, "type": "quantitative", "scale": {"domain": [-0.63, 0.49], "nice": false, "zero": false}},
           "y2": {"datum": -0.728}}},
        {"mark": {"type": "rect", "fill": "#ffffff", "stroke": "#808080", "strokeWidth": 1},
         "encoding": {"x": {"datum": 0, "type": "quantitative", "scale": {"domain": [0, 100], "nice": false, "zero": false}},
                      "x2": {"datum": 100},
                      "y": {"datum": 0.49, "type": "quantitative", "scale": {"domain": [-0.63, 0.49], "nice": false, "zero": false}},
                      "y2": {"datum": -0.63}}},
        {"data": {"name": "grid_x"}, "mark": {"type": "rule", "color": "#7d7d7d", "strokeWidth": 1},
         "encoding": {"x": {"field": "at", "type": "quantitative", "scale": {"domain": [0, 100], "nice": false, "zero": false},
                            "axis": {"values": [0, 20, 40, 60, 80, 100], "labels": false, "domain": false, "tickSize": 5, "tickColor": "#555555", "grid": false, "title": null, "zindex": 1}}}},
        {"data": {"name": "grid_yb"}, "mark": {"type": "rule", "color": "#7d7d7d", "strokeWidth": 1},
         "encoding": {"y": {"field": "at", "type": "quantitative", "scale": {"domain": [-0.63, 0.49], "nice": false, "zero": false},
                            "axis": {"values": [0.49, 0, -0.63], "labelExpr": "replace(format(datum.value, '.2f'), '\u2212', '-')", "labelOverlap": false, "labelFlush": false, "tickSize": 8, "labelPadding": 3, "grid": false, "title": null, "zindex": 1}}}},
        {"data": {"name": "band_b3"}, "mark": {"type": "area", "color": "#5d609f", "interpolate": "monotone"},
         "encoding": {"x": {"field": "x", "type": "quantitative", "scale": {"domain": [0, 100], "nice": false, "zero": false}},
                      "y": {"field": "hi", "type": "quantitative", "scale": {"domain": [-0.63, 0.49], "nice": false, "zero": false}},
                      "y2": {"field": "lo"}}},
        {"data": {"name": "trace_b3"}, "mark": {"type": "line", "strokeWidth": 1.5, "interpolate": "monotone"},
         "encoding": {"x": {"field": "x", "type": "quantitative", "scale": {"domain": [0, 100], "nice": false, "zero": false}},
                      "y": {"field": "y", "type": "quantitative", "scale": {"domain": [-0.63, 0.49], "nice": false, "zero": false}},
                      "color": {"field": "t", "type": "nominal", "scale": {"domain": ["R", "L"], "range": ["#b04a4a", "#3a3a7a"]}, "legend": null}}},
        {"mark": {"type": "rule", "color": "#5b1a5b", "strokeWidth": 3.5},
         "encoding": {"x": {"datum": 61.9, "type": "quantitative", "scale": {"domain": [0, 100], "nice": false, "zero": false}},
                      "y": {"datum": 0.49, "type": "quantitative", "scale": {"domain": [-0.63, 0.49], "nice": false, "zero": false}},
                      "y2": {"datum": -0.6}}}
      ]
    }
  ],
  "config": {
    "view": {"stroke": null},
    "text": {"font": "DejaVu Sans"},
    "axis": {"labelFont": "DejaVu Sans", "labelFontSize": 15, "labelColor": "#222222", "tickColor": "#333333", "domainColor": "#404040", "domainWidth": 1, "tickWidth": 1, "labelOverlap": false}
  }
}
